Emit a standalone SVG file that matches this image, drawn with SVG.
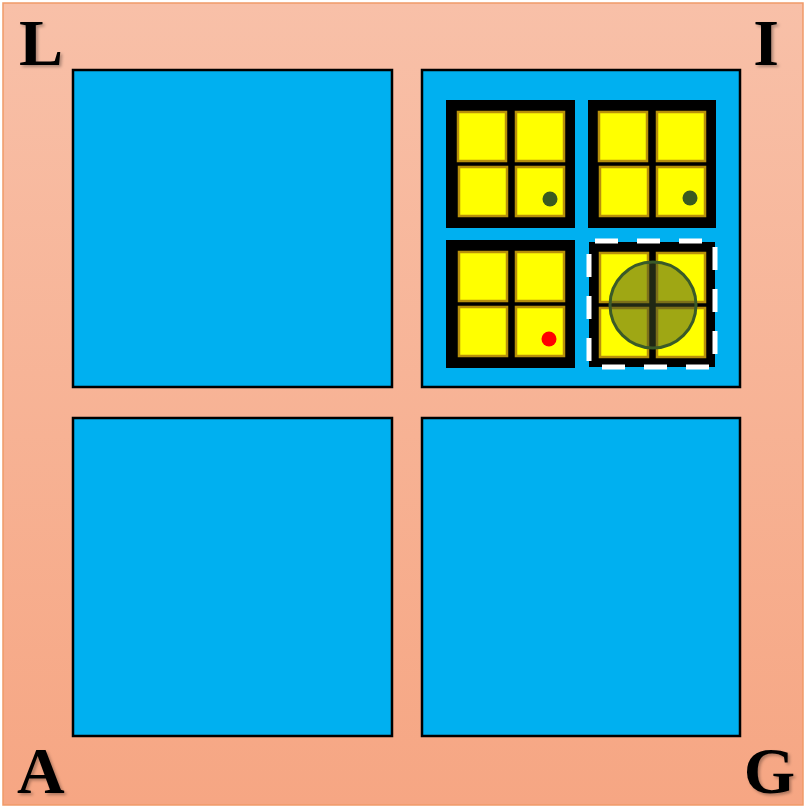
<svg xmlns="http://www.w3.org/2000/svg" width="806" height="808" viewBox="0 0 806 808">
<defs>
<linearGradient id="bg" x1="0" y1="0" x2="0" y2="1">
<stop offset="0" stop-color="#f8c0a8"/>
<stop offset="1" stop-color="#f6a683"/>
</linearGradient>
<filter id="sh" x="-20%" y="-20%" width="150%" height="150%">
<feDropShadow dx="2" dy="2" stdDeviation="1.5" flood-color="#000" flood-opacity="0.3"/>
</filter>
</defs>
<style>
.quad{fill:#00b0f0;stroke:#000;stroke-width:2.5}
.tile{fill:#000}
.cell{fill:#ffff00;stroke:#b8900a;stroke-width:2.5}
.lbl{font-family:"Liberation Serif","Times New Roman",serif;font-weight:bold;font-size:66px;fill:#000;filter:url(#sh)}
.dot{fill:#3a5a20}
</style>
<rect x="3" y="3" width="800" height="802" fill="url(#bg)" stroke="#f09a68" stroke-width="1.5"/>
<g id="label-L"><text class="lbl" x="19" y="65">L</text></g>
<g id="label-I"><text class="lbl" x="779" y="65" text-anchor="end">I</text></g>
<g id="label-A"><text class="lbl" x="17" y="793">A</text></g>
<g id="label-G"><text class="lbl" x="795" y="793" text-anchor="end">G</text></g>
<g id="quad-tl"><rect class="quad" x="73" y="70" width="319" height="317"/></g>
<g id="quad-bl"><rect class="quad" x="73" y="418" width="319" height="318"/></g>
<g id="quad-br"><rect class="quad" x="422" y="418" width="318" height="318"/></g>
<g id="quad-tr"><rect class="quad" x="422" y="70" width="318" height="317"/></g>
<g id="tile-1">
<rect class="tile" x="446" y="100" width="129" height="128"/>
<rect class="cell" x="458" y="112" width="48" height="49"/>
<rect class="cell" x="516" y="112" width="48" height="49"/>
<rect class="cell" x="459" y="167" width="48" height="49"/>
<rect class="cell" x="516" y="167" width="48" height="49"/>
<circle class="dot" cx="550" cy="199" r="7.5"/>
</g>
<g id="tile-2">
<rect class="tile" x="588" y="100" width="128" height="128"/>
<rect class="cell" x="599" y="112" width="48" height="49"/>
<rect class="cell" x="657" y="112" width="48" height="49"/>
<rect class="cell" x="600" y="167" width="48" height="49"/>
<rect class="cell" x="657" y="167" width="48" height="49"/>
<circle class="dot" cx="690" cy="198" r="7.5"/>
</g>
<g id="tile-3">
<rect class="tile" x="446" y="240" width="129" height="128"/>
<rect class="cell" x="459" y="252" width="48" height="49"/>
<rect class="cell" x="516" y="252" width="48" height="49"/>
<rect class="cell" x="459" y="307" width="48" height="49"/>
<rect class="cell" x="516" y="307" width="48" height="49"/>
<circle cx="549" cy="339" r="7.5" fill="#ff0000"/>
</g>
<g id="tile-4">
<rect class="tile" x="589" y="242" width="126" height="125"/>
<rect class="cell" x="600" y="253" width="48" height="49"/>
<rect class="cell" x="657" y="253" width="48" height="49"/>
<rect class="cell" x="600" y="308" width="48" height="49"/>
<rect class="cell" x="657" y="308" width="48" height="49"/>
<circle cx="653" cy="305" r="43" fill="#405028" fill-opacity="0.5" stroke="#3a5a28" stroke-width="3"/>
<rect x="589" y="241" width="126" height="126" fill="none" stroke="#fff" stroke-width="5" stroke-dasharray="23 19" stroke-dashoffset="-6"/>
</g>
</svg>
